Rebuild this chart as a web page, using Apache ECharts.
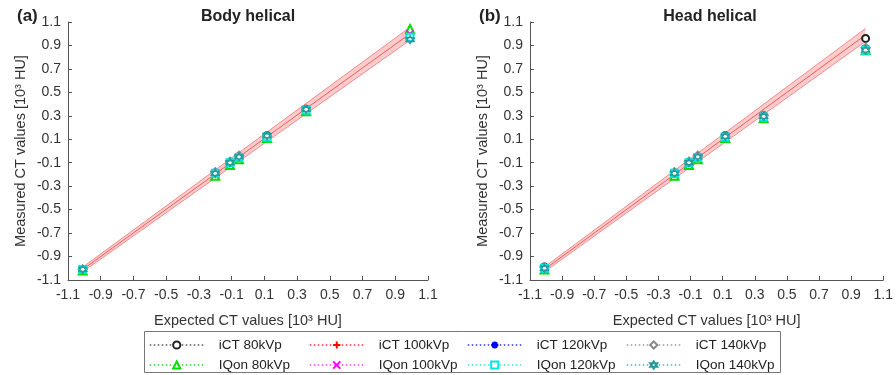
<!DOCTYPE html>
<html>
<head>
<meta charset="utf-8">
<script src="https://cdn.jsdelivr.net/npm/echarts@6/dist/echarts.min.js"></script>
<style>
  html, body { margin: 0; padding: 0; background: #fff; }
  #chart { width: 896px; height: 375px; }
</style>
</head>
<body>
<div id="chart"></div>
<script>
// Expected CT values of the phantom inserts [10^3 HU]
const expected = [-1.01, -0.20, -0.11, -0.055, 0.116, 0.355, 0.99];

const seriesNames = ['iCT 80kVp', 'iCT 100kVp', 'iCT 120kVp', 'iCT 140kVp',
                     'IQon 80kVp', 'IQon 100kVp', 'IQon 120kVp', 'IQon 140kVp'];

// Measured CT values, body helical protocol [10^3 HU]
const bodyICT80   = [-1.01, -0.19, -0.10, -0.05, 0.13, 0.355, 1.00];
const bodyICT100  = [-1.01, -0.19, -0.10, -0.05, 0.125, 0.35, 0.99];
const bodyICT120  = [-1.01, -0.19, -0.10, -0.05, 0.12, 0.35, 0.97];
const bodyICT140  = [-1.01, -0.18, -0.09, -0.04, 0.125, 0.35, 0.96];
const bodyIQon80  = [-1.02, -0.21, -0.12, -0.07, 0.11, 0.34, 1.04];
const bodyIQon100 = [-1.01, -0.20, -0.11, -0.06, 0.12, 0.345, 1.00];
const bodyIQon120 = [-1.01, -0.19, -0.10, -0.055, 0.12, 0.35, 0.97];
const bodyIQon140 = [-1.01, -0.19, -0.10, -0.05, 0.13, 0.355, 0.95];

// Measured CT values, head helical protocol [10^3 HU]
const headICT80   = [-0.99, -0.19, -0.10, -0.05, 0.13, 0.30, 0.96];
const headICT100  = [-0.99, -0.19, -0.10, -0.05, 0.13, 0.30, 0.87];
const headICT120  = [-1.00, -0.19, -0.10, -0.05, 0.12, 0.29, 0.87];
const headICT140  = [-0.99, -0.18, -0.09, -0.04, 0.125, 0.30, 0.88];
const headIQon80  = [-1.01, -0.21, -0.12, -0.07, 0.11, 0.28, 0.86];
const headIQon100 = [-1.00, -0.20, -0.11, -0.06, 0.12, 0.29, 0.87];
const headIQon120 = [-1.00, -0.19, -0.10, -0.055, 0.12, 0.29, 0.86];
const headIQon140 = [-1.00, -0.19, -0.10, -0.05, 0.125, 0.295, 0.86];

// Regression line and its band (end points) for each panel
const fitX          = [-1.01, 0.99];
const bodyFitY      = [-1.01, 1.00];
const bodyBandHalf  = [0.02, 0.055];
const headFitY      = [-1.01, 0.99];
const headBandHalf  = [0.02, 0.055];

// Axis tick labels
const tickLabels = ['-1.1', '-0.9', '-0.7', '-0.5', '-0.3', '-0.1', '0.1', '0.3', '0.5', '0.7', '0.9', '1.1'];

const bodyData = [bodyICT80, bodyICT100, bodyICT120, bodyICT140, bodyIQon80, bodyIQon100, bodyIQon120, bodyIQon140];
const headData = [headICT80, headICT100, headICT120, headICT140, headIQon80, headIQon100, headIQon120, headIQon140];

const FONT = '"Liberation Sans", Arial, Helvetica, sans-serif';

// Marker look for each series
const styles = [
  { color: '#222222', line: '#555555', symbol: 'emptyCircle', size: 7 },
  { color: '#ff0000', line: '#ff3030', symbol: 'path://M5,0L5,10M0,5L10,5', size: 8, stroke: true },
  { color: '#0000ff', line: '#3030ff', symbol: 'path://M5,0L5,10M0,5L10,5M1.5,1.5L8.5,8.5M8.5,1.5L1.5,8.5', size: 8, stroke: true },
  { color: '#888888', line: '#999999', symbol: 'emptyDiamond', size: 8 },
  { color: '#00dd00', line: '#22dd22', symbol: 'emptyTriangle', size: 8 },
  { color: '#ff00ff', line: '#ff40ff', symbol: 'path://M0,0L10,10M10,0L0,10', size: 7, stroke: true },
  { color: '#00e5e5', line: '#40e0e0', symbol: 'emptyRect', size: 7 },
  { color: '#2a9a9a', line: '#5aaaaa', symbol: 'path://M5,0L9.33,7.5L0.67,7.5Z M5,10L0.67,2.5L9.33,2.5Z', size: 8, stroke: true }
];

function pairs(xs, ys) { return xs.map((x, i) => [x, ys[i]]); }

function bandSeries(idx, fitY, half) {
  const lo = fitY.map((y, i) => y - half[i]);
  const hi = fitY.map((y, i) => y + half[i]);
  const poly = fitX.map((x, i) => [x, lo[i], hi[i]]);
  const lineCommon = { type: 'line', xAxisIndex: idx, yAxisIndex: idx, symbol: 'none', silent: true, z: 2 };
  return [
    {
      type: 'custom', xAxisIndex: idx, yAxisIndex: idx, silent: true, z: 1,
      data: poly,
      renderItem: function (params, api) {
        if (params.dataIndex !== 0) return;
        const upper = poly.map(p => api.coord([p[0], p[2]]));
        const lower = poly.slice().reverse().map(p => api.coord([p[0], p[1]]));
        return { type: 'polygon', shape: { points: upper.concat(lower) },
                 style: { fill: 'rgba(250,170,170,0.6)' } };
      }
    },
    Object.assign({ data: pairs(fitX, lo), lineStyle: { color: '#f38a8a', width: 1 } }, lineCommon),
    Object.assign({ data: pairs(fitX, hi), lineStyle: { color: '#f38a8a', width: 1 } }, lineCommon),
    Object.assign({ data: pairs(fitX, fitY), lineStyle: { color: '#ec5c5c', width: 1 } }, lineCommon)
  ];
}

function markerSeries(idx, dataSet) {
  return dataSet.map((vals, k) => {
    const s = styles[k];
    return {
      name: seriesNames[k], type: 'line', xAxisIndex: idx, yAxisIndex: idx, z: 5,
      data: pairs(expected, vals),
      symbol: s.symbol, symbolSize: s.size, showSymbol: true,
      lineStyle: { width: 0, opacity: 0, color: s.line },
      itemStyle: s.stroke
        ? { color: 'rgba(0,0,0,0)', borderColor: s.color, borderWidth: 1.3 }
        : { color: s.color, borderColor: s.color, borderWidth: 1.3 },
      emphasis: { disabled: true },
      animation: false
    };
  });
}

function axisCommon(gi, name, isY) {
  return {
    type: 'value', gridIndex: gi, min: -1.1, max: 1.1, interval: 0.2,
    name: name, nameLocation: 'middle', nameGap: isY ? 40 : 33,
    nameTextStyle: { fontFamily: FONT, fontSize: 14.5, color: '#333' },
    axisLine: { show: true, onZero: false, lineStyle: { color: '#555', width: 1 } },
    axisTick: { show: true, inside: true, length: 4, lineStyle: { color: '#555' } },
    axisLabel: {
      fontFamily: FONT, fontSize: 14, color: '#333', margin: isY ? 7 : 8,
      formatter: v => tickLabels[Math.round((v + 1.1) / 0.2)] ?? v.toFixed(1)
    },
    splitLine: { show: false }
  };
}

// One legend entry per series, laid out as a 4 x 2 table
const legendCols = [144, 304, 462, 621];
const legendRows = [333, 353];
const legends = seriesNames.map((n, k) => {
  const s = styles[k];
  return {
    data: [{ name: n, lineStyle: { color: s.line, width: 1.5, type: [1.5, 2.5], opacity: 1 } }],
    left: legendCols[k % 4], top: legendRows[Math.floor(k / 4)],
    itemWidth: 54, itemHeight: 9, selectedMode: false,
    textStyle: { fontFamily: FONT, fontSize: 13.5, color: '#222', padding: [0, 0, 0, 10] }
  };
});

const option = {
  animation: false,
  title: [
    { text: '(a)', left: 12, top: 3, textStyle: { fontFamily: FONT, fontSize: 17, fontWeight: 'bold', color: '#222' } },
    { text: 'Body helical', left: 243, top: 4, textAlign: 'center', textStyle: { fontFamily: FONT, fontSize: 16, fontWeight: 'bold', color: '#222' } },
    { text: '(b)', left: 474, top: 3, textStyle: { fontFamily: FONT, fontSize: 17, fontWeight: 'bold', color: '#222' } },
    { text: 'Head helical', left: 705, top: 4, textAlign: 'center', textStyle: { fontFamily: FONT, fontSize: 16, fontWeight: 'bold', color: '#222' } }
  ],
  grid: [
    { left: 68, top: 22, width: 360, height: 258 },
    { left: 530, top: 22, width: 359, height: 258 }
  ],
  xAxis: [
    axisCommon(0, 'Expected CT values [10³ HU]', false),
    axisCommon(1, 'Expected CT values [10³ HU]', false)
  ],
  yAxis: [
    axisCommon(0, 'Measured CT values [10³ HU]', true),
    axisCommon(1, 'Measured CT values [10³ HU]', true)
  ],
  legend: legends,
  graphic: [
    { type: 'rect', shape: { x: 144.5, y: 331.5, width: 636, height: 41 },
      style: { fill: 'none', stroke: '#777', lineWidth: 1 }, silent: true, z: 0 }
  ],
  series: [].concat(
    bandSeries(0, bodyFitY, bodyBandHalf),
    bandSeries(1, headFitY, headBandHalf),
    markerSeries(0, bodyData),
    markerSeries(1, headData)
  )
};

const chart = echarts.init(document.getElementById('chart'), null, { renderer: 'canvas' });
chart.setOption(option);
</script>
</body>
</html>
